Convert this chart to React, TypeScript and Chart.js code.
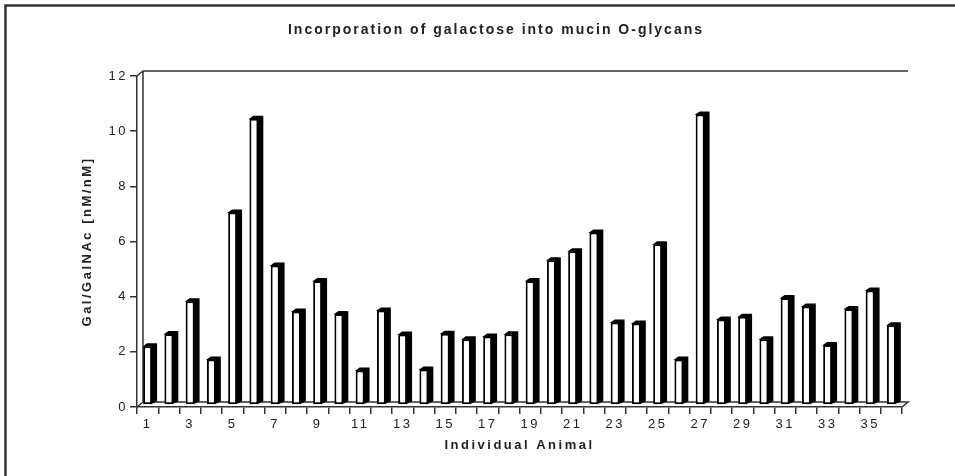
import React, { useEffect, useRef } from 'react';
import { Chart, registerables } from 'chart.js';

Chart.register(...registerables);

const TITLE = 'Incorporation of galactose into mucin O-glycans';
const X_TITLE = 'Individual Animal';
const Y_TITLE = 'Gal/GalNAc [nM/nM]';

const animals = [
  '1', '2', '3', '4', '5', '6', '7', '8', '9', '10', '11', '12',
  '13', '14', '15', '16', '17', '18', '19', '20', '21', '22', '23', '24',
  '25', '26', '27', '28', '29', '30', '31', '32', '33', '34', '35', '36',
];

const galRatio = [
  2.2, 2.65, 3.83, 1.72, 7.05, 10.45, 5.13, 3.46, 4.57, 3.37, 1.32, 3.5,
  2.63, 1.36, 2.66, 2.46, 2.56, 2.64, 4.57, 5.32, 5.65, 6.33, 3.06, 3.03,
  5.9, 1.72, 10.6, 3.17, 3.27, 2.46, 3.95, 3.64, 2.25, 3.55, 4.22, 2.96,
];

const Y_MIN = 0;
const Y_MAX = 12;
const Y_STEP = 2;

const FONT = 'Arial, "Liberation Sans", Helvetica, sans-serif';
const INK = '#222';
const LINE = '#333';

const depthPlugin = {
  id: 'depth3d',
  beforeUpdate(chart: any) {
    chart.ctx.letterSpacing = '2.5px';
  },
  beforeDraw(chart: any) {
    const ctx = chart.ctx;
    ctx.letterSpacing = '2.5px';
    ctx.save();
    ctx.strokeStyle = LINE;
    ctx.lineWidth = 2.5;
    ctx.beginPath();
    ctx.moveTo(5.5, 476);
    ctx.lineTo(5.5, 5.5);
    ctx.lineTo(955, 5.5);
    ctx.stroke();
    ctx.fillStyle = INK;
    ctx.font = `bold 14px ${FONT}`;
    ctx.letterSpacing = '2px';
    ctx.textAlign = 'center';
    ctx.textBaseline = 'middle';
    ctx.fillText(TITLE, 496, 30);
    ctx.restore();
  },
  beforeDatasetsDraw(chart: any) {
    const ctx = chart.ctx;
    const { left, right, top, bottom } = chart.chartArea;
    const dx = 6;
    const dy = 5;
    ctx.save();
    ctx.strokeStyle = LINE;
    ctx.lineWidth = 1.5;
    ctx.beginPath();
    ctx.moveTo(left, top);
    ctx.lineTo(left + dx, top - dy);
    ctx.lineTo(right + dx, top - dy);
    ctx.moveTo(left + dx, top - dy);
    ctx.lineTo(left + dx, bottom - dy);
    ctx.lineTo(right + dx, bottom - dy);
    ctx.lineTo(right, bottom);
    ctx.moveTo(left, bottom);
    ctx.lineTo(left + dx, bottom - dy);
    ctx.stroke();
    ctx.restore();
  },
  afterDatasetsDraw(chart: any) {
    const ctx = chart.ctx;
    const meta = chart.getDatasetMeta(0);
    const bx = 5;
    const by = 3;
    ctx.save();
    ctx.fillStyle = '#000';
    meta.data.forEach((bar: any) => {
      const { x, y, base, width } = bar.getProps(['x', 'y', 'base', 'width'], true);
      const l = x - width / 2;
      const r = x + width / 2;
      ctx.beginPath();
      ctx.moveTo(r - 1, y);
      ctx.lineTo(r + bx, y - by);
      ctx.lineTo(r + bx, base - by);
      ctx.lineTo(r - 1, base);
      ctx.closePath();
      ctx.fill();
      ctx.beginPath();
      ctx.moveTo(l - 1, y + 0.5);
      ctx.lineTo(l + bx - 1, y - by);
      ctx.lineTo(r + bx, y - by);
      ctx.lineTo(r, y + 0.5);
      ctx.closePath();
      ctx.fill();
    });
    ctx.restore();
  },
};

export default function App() {
  const ref = useRef<HTMLCanvasElement>(null);

  useEffect(() => {
    if (!ref.current) return;
    const chart = new Chart(ref.current, {
      type: 'bar',
      data: {
        labels: animals,
        datasets: [
          {
            data: galRatio,
            backgroundColor: '#fff',
            borderColor: '#000',
            borderWidth: 2,
            borderSkipped: false,
            base: 0.1,
            barPercentage: 0.42,
            categoryPercentage: 1,
          } as any,
        ],
      },
      options: {
        responsive: false,
        animation: false,
        devicePixelRatio: 1,
        layout: { padding: { left: 76, right: 53, top: 76, bottom: 19 } },
        plugins: {
          legend: { display: false },
          title: { display: false },
          tooltip: { enabled: false },
        },
        scales: {
          x: {
            grid: {
              display: true,
              drawOnChartArea: false,
              offset: true,
              tickLength: 7,
              color: LINE,
              lineWidth: 1.5,
            },
            border: { display: true, color: LINE, width: 1.5 },
            ticks: {
              autoSkip: false,
              maxRotation: 0,
              minRotation: 0,
              padding: 3,
              color: INK,
              font: { family: FONT, size: 13 },
              callback: (_v: any, i: number) => (i % 2 === 0 ? animals[i] : ''),
            },
            title: {
              display: true,
              text: X_TITLE,
              color: INK,
              font: { family: FONT, size: 13, weight: 'bold' },
              padding: { top: 4, bottom: 4 },
            },
            afterFit: (s: any) => {
              s.height = 50;
            },
          },
          y: {
            min: Y_MIN,
            max: Y_MAX,
            grid: {
              display: true,
              drawOnChartArea: false,
              tickLength: 7,
              color: LINE,
              lineWidth: 1.5,
            },
            border: { display: true, color: LINE, width: 1.5 },
            ticks: {
              stepSize: Y_STEP,
              padding: 2,
              color: INK,
              font: { family: FONT, size: 13 },
            },
            title: {
              display: true,
              text: Y_TITLE,
              color: INK,
              font: { family: FONT, size: 13, weight: 'bold' },
              padding: { top: 4, bottom: 4 },
            },
            afterFit: (s: any) => {
              s.width = 61;
            },
          },
        },
      } as any,
      plugins: [depthPlugin],
    });
    return () => chart.destroy();
  }, []);

  return (
    <div style={{ position: 'fixed', left: 0, top: 0, width: 955, height: 476, background: '#fff' }}>
      <canvas ref={ref} width={955} height={476} style={{ display: 'block' }} />
    </div>
  );
}
